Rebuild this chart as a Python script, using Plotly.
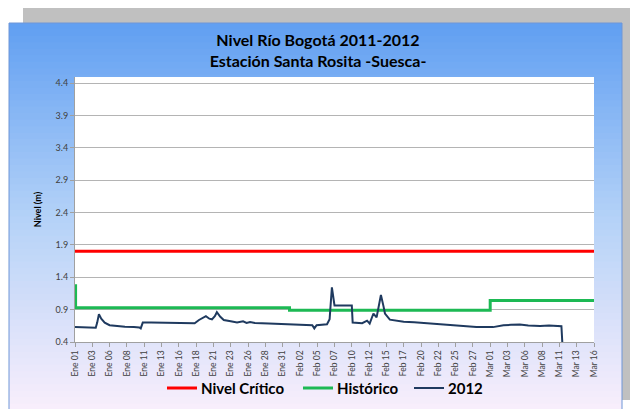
import plotly.graph_objs as go

# --- data -------------------------------------------------------------
critical_dates = ["2012-01-01", "2012-03-16"]
critical_level = [1.8, 1.8]

hist_dates = ["2012-01-01 00:00", "2012-01-01 02:00", "2012-02-01", "2012-03-01", "2012-03-16"]
hist_level = [1.27, 0.93, 0.89, 1.04, 1.04]

dates_2012 = [
    "2012-01-01 00:00", "2012-01-02 00:00", "2012-01-03 00:00", "2012-01-04 00:00",
    "2012-01-04 05:00", "2012-01-04 11:00", "2012-01-04 19:00", "2012-01-05 07:00",
    "2012-01-06 00:00", "2012-01-07 00:00", "2012-01-08 05:00", "2012-01-09 12:00",
    "2012-01-10 07:00", "2012-01-10 12:00", "2012-01-10 19:00", "2012-01-12 00:00",
    "2012-01-13 12:00", "2012-01-15 00:00", "2012-01-16 12:00", "2012-01-17 05:00",
    "2012-01-18 07:00", "2012-01-18 22:00", "2012-01-19 22:00", "2012-01-20 10:00",
    "2012-01-20 19:00", "2012-01-21 05:00", "2012-01-21 12:00", "2012-01-22 00:00",
    "2012-01-22 12:00", "2012-01-23 12:00", "2012-01-24 10:00", "2012-01-25 07:00",
    "2012-01-25 19:00", "2012-01-26 07:00", "2012-01-27 00:00", "2012-01-29 00:00",
    "2012-01-31 14:00", "2012-02-02 12:00", "2012-02-04 07:00", "2012-02-04 14:00",
    "2012-02-04 22:00", "2012-02-06 10:00", "2012-02-06 19:00", "2012-02-07 03:00",
    "2012-02-07 12:00", "2012-02-10 00:00", "2012-02-10 03:00", "2012-02-11 12:00",
    "2012-02-12 05:00", "2012-02-12 14:00", "2012-02-13 03:00", "2012-02-13 14:00",
    "2012-02-14 05:00", "2012-02-14 14:00", "2012-02-14 19:00", "2012-02-15 12:00",
    "2012-02-17 12:00", "2012-02-19 00:00", "2012-02-20 19:00", "2012-02-22 00:00",
    "2012-02-23 05:00", "2012-02-25 00:00", "2012-02-26 12:00", "2012-02-28 00:00",
    "2012-03-01 10:00", "2012-03-02 22:00", "2012-03-04 00:00", "2012-03-05 07:00",
    "2012-03-06 12:00", "2012-03-08 05:00", "2012-03-09 12:00", "2012-03-10 12:00",
    "2012-03-11 07:00", "2012-03-11 10:00",
]
level_2012 = [
    0.63, 0.63, 0.625, 0.62,
    0.70, 0.83, 0.76, 0.70,
    0.66, 0.645, 0.635, 0.63,
    0.625, 0.61, 0.70, 0.70,
    0.695, 0.70, 0.695, 0.685,
    0.69, 0.74, 0.80, 0.76,
    0.75, 0.80, 0.86, 0.79,
    0.74, 0.72, 0.70, 0.72,
    0.695, 0.71, 0.695, 0.685,
    0.673, 0.665, 0.66, 0.61,
    0.66, 0.675, 0.75, 1.245,
    0.965, 0.965, 0.70, 0.69,
    0.73, 0.685, 0.84, 0.78,
    1.125, 0.95, 0.84, 0.745,
    0.714, 0.705, 0.69, 0.675,
    0.662, 0.647, 0.64, 0.632,
    0.63, 0.66, 0.665, 0.67,
    0.655, 0.647, 0.655, 0.652,
    0.645, 0.40,
]

tick_labels = [
    "Ene 01", "Ene 03", "Ene 06", "Ene 08", "Ene 11", "Ene 13", "Ene 16", "Ene 18",
    "Ene 21", "Ene 23", "Ene 26", "Ene 28", "Ene 31", "Feb 02", "Feb 05", "Feb 07",
    "Feb 10", "Feb 12", "Feb 15", "Feb 17", "Feb 20", "Feb 22", "Feb 25", "Feb 27",
    "Mar 01", "Mar 03", "Mar 06", "Mar 08", "Mar 11", "Mar 13", "Mar 16",
]
y_ticks = [0.4, 0.9, 1.4, 1.9, 2.4, 2.9, 3.4, 3.9, 4.4]

# tick every 2.5 days from Jan 1 (in ms for the date axis)
day_ms = 86400000
t0 = 1325376000000  # 2012-01-01 UTC
tick_vals = [t0 + i * 2.5 * day_ms for i in range(len(tick_labels))]

FONT = "Lato"
OFF = 8  # default body margin of the html page

series = [
    ('Nivel Crítico', '#ff0000', 3, critical_dates, critical_level, 'linear'),
    ('Histórico', '#1db954', 3, hist_dates, hist_level, 'hv'),
    ('2012', '#1f3a5f', 2, dates_2012, level_2012, 'linear'),
]

fig = go.Figure()
for name, color, width, xs, ys, shape in series:
    fig.add_trace(go.Scatter(x=xs, y=ys, mode='lines', name=name, line_shape=shape,
                             line=dict(color=color, width=width)))


# background panels (page pixel -> paper, plot area 75..594 x 77..342 on the page)
def px(x):
    return (x - 75) / 519.0


def py(y):
    return (342 - y) / 265.0


shapes = [dict(type='rect', xref='paper', yref='paper', layer='below',
               x0=px(23), x1=px(640), y0=py(400), y1=py(6),
               fillcolor='rgb(192,192,192)', line=dict(width=0))]
# vertical gradient of the blue panel
n_strips = 60
top_y, bot_y = 23, 410
c_top = (98, 160, 242)
c_mid = (180, 210, 248)
c_bot = (248, 238, 252)
for i in range(n_strips):
    f = i / (n_strips - 1)
    if f < 0.5:
        g = f / 0.5
        c = [c_top[k] + (c_mid[k] - c_top[k]) * g for k in range(3)]
    else:
        g = (f - 0.5) / 0.5
        c = [c_mid[k] + (c_bot[k] - c_mid[k]) * g for k in range(3)]
    ya = top_y + (bot_y - top_y) * i / n_strips
    yb = top_y + (bot_y - top_y) * (i + 1) / n_strips + 1
    shapes.append(dict(type='rect', xref='paper', yref='paper', layer='below',
                       x0=px(9), x1=px(622), y0=py(yb), y1=py(ya),
                       fillcolor='rgb(%d,%d,%d)' % tuple(int(v) for v in c),
                       line=dict(width=0)))
shapes.append(dict(type='rect', xref='paper', yref='paper', layer='below',
                   x0=px(9), x1=px(622), y0=py(410), y1=py(23),
                   fillcolor='rgba(0,0,0,0)', line=dict(color='rgb(110,150,215)', width=1)))
# white plot area on top of the gradient
shapes.append(dict(type='rect', xref='paper', yref='paper', layer='below',
                   x0=0, x1=1, y0=0, y1=1, fillcolor='white', line=dict(width=0)))

# legend drawn by hand so it does not push the margins
annotations = []
legend_x = [167, 303, 414]
legend_y = py(388)
for (name, color, width, _, _, _), lx in zip(series, legend_x):
    shapes.append(dict(type='line', xref='paper', yref='paper', layer='above',
                       x0=px(lx), x1=px(lx + 30), y0=legend_y, y1=legend_y,
                       line=dict(color=color, width=width)))
    annotations.append(dict(xref='paper', yref='paper', x=px(lx + 32), y=legend_y,
                            xanchor='left', yanchor='middle', showarrow=False,
                            text='<b>%s</b>' % name,
                            font=dict(family=FONT, size=15, color='black')))

W, H = 638 - OFF, 409 - OFF
fig.update_layout(
    width=W, height=H,
    margin=dict(l=75 - OFF, r=W - (594 - OFF), t=77 - OFF, b=H - (342 - OFF)),
    paper_bgcolor='white',
    plot_bgcolor='white',
    shapes=shapes,
    annotations=annotations,
    font=dict(family=FONT, color='#404040'),
    title=dict(text='<b>Nivel Río Bogotá 2011-2012<br>Estación Santa Rosita -Suesca-</b>',
               x=(318 - OFF) / W, xanchor='center', y=1 - (46 - OFF) / H, yanchor='middle',
               automargin=False, font=dict(family=FONT, size=16, color='black')),
    showlegend=False,
    xaxis=dict(
        type='date', automargin=False,
        range=['2012-01-01', '2012-03-16'],
        tickmode='array', tickvals=tick_vals, ticktext=tick_labels,
        tickangle=-90, tickfont=dict(size=8.5, color='#404040'),
        showgrid=False, showline=True, linecolor='#a0a0a0', linewidth=1,
        ticks='outside', ticklen=4, tickcolor='#a0a0a0', zeroline=False,
    ),
    yaxis=dict(
        automargin=False,
        range=[0.4, 4.493],
        tickmode='array', tickvals=y_ticks, ticktext=['%.1f' % v for v in y_ticks],
        tickfont=dict(size=9, color='#404040'),
        showgrid=True, gridcolor='#b4b4b4', gridwidth=1,
        showline=True, linecolor='#a0a0a0', linewidth=1,
        ticks='outside', ticklen=4, tickcolor='#a0a0a0', zeroline=False,
        title=dict(text='<b>Nivel (m)</b>', font=dict(family=FONT, size=9, color='black'),
                   standoff=12),
    ),
)

fig.write_html("out.html")
